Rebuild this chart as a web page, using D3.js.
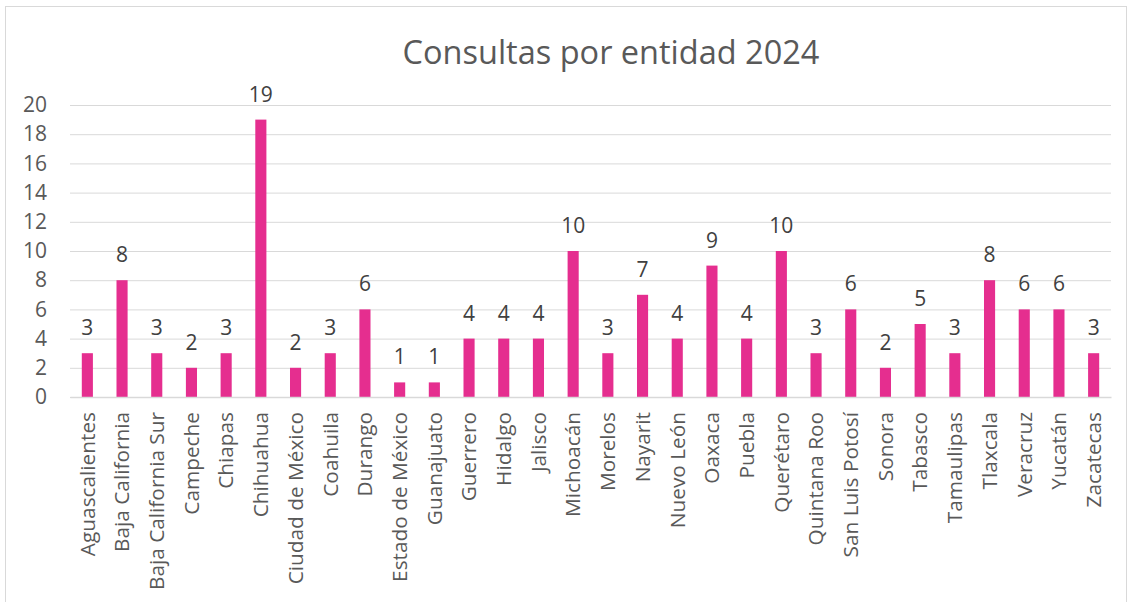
<!DOCTYPE html>
<html><head><meta charset="utf-8">
<script src="https://cdn.jsdelivr.net/npm/d3@7"></script>
<style>body{margin:0;background:#fff;} text{font-family:"Open Sans",sans-serif;}</style>
</head><body>
<svg id="c" width="1127" height="602"></svg>
<script>
const categories = ["Aguascalientes","Baja California","Baja California Sur","Campeche","Chiapas","Chihuahua","Ciudad de México","Coahuila","Durango","Estado de México","Guanajuato","Guerrero","Hidalgo","Jalisco","Michoacán","Morelos","Nayarit","Nuevo León","Oaxaca","Puebla","Querétaro","Quintana Roo","San Luis Potosí","Sonora","Tabasco","Tamaulipas","Tlaxcala","Veracruz","Yucatán","Zacatecas"];
const values = [3,8,3,2,3,19,2,3,6,1,1,4,4,4,10,3,7,4,9,4,10,3,6,2,5,3,8,6,6,3];
const yTicks = [0,2,4,6,8,10,12,14,16,18,20];
const title = "Consultas por entidad 2024";

const svg = d3.select("#c");
svg.append("rect").attr("x",5.5).attr("y",6.5).attr("width",1121).attr("height",600).attr("fill","#fff").attr("stroke","#d9d9d9");

const x = d3.scaleBand().domain(categories).range([70,1111]).paddingInner(0.68).paddingOuter(0.34);
const y = d3.scaleLinear().domain([0,20]).range([397,105]);

svg.append("text").attr("x",611).attr("y",64).attr("text-anchor","middle").attr("font-size",32.5).attr("fill","#595959").text(title);

const gy = svg.append("g").attr("transform","translate(70,0)")
  .call(d3.axisLeft(y).tickValues(yTicks).tickSize(-1041).tickPadding(23).tickFormat(d3.format("d")));
gy.select(".domain").remove();
gy.selectAll(".tick line").attr("stroke","#d9d9d9").attr("stroke-width",1);
gy.selectAll(".tick text").attr("font-size",21).attr("fill","#595959").attr("font-family","Open Sans");

svg.selectAll("rect.bar").data(values).join("rect").attr("class","bar")
  .attr("x",(d,i)=>x(categories[i])).attr("width",x.bandwidth())
  .attr("y",d=>y(d)).attr("height",d=>y(0)-y(d)).attr("fill","#e52e8f");

svg.selectAll("text.val").data(values).join("text").attr("class","val")
  .attr("x",(d,i)=>x(categories[i])+x.bandwidth()/2).attr("y",d=>y(d)-18)
  .attr("text-anchor","middle").attr("font-size",21).attr("fill","#404040").text(d=>d);

const gx = svg.append("g").attr("transform","translate(0,397)")
  .call(d3.axisBottom(x).tickSize(0).tickPadding(0));
gx.select(".domain").attr("stroke","#d9d9d9").attr("stroke-width",1.5);
gx.selectAll(".tick text").attr("font-size",20.8).attr("fill","#595959").attr("font-family","Open Sans")
  .attr("transform","rotate(-90)").attr("text-anchor","end").attr("dy","0.35em").attr("x",-15).attr("y",0);
</script>
</body></html>
